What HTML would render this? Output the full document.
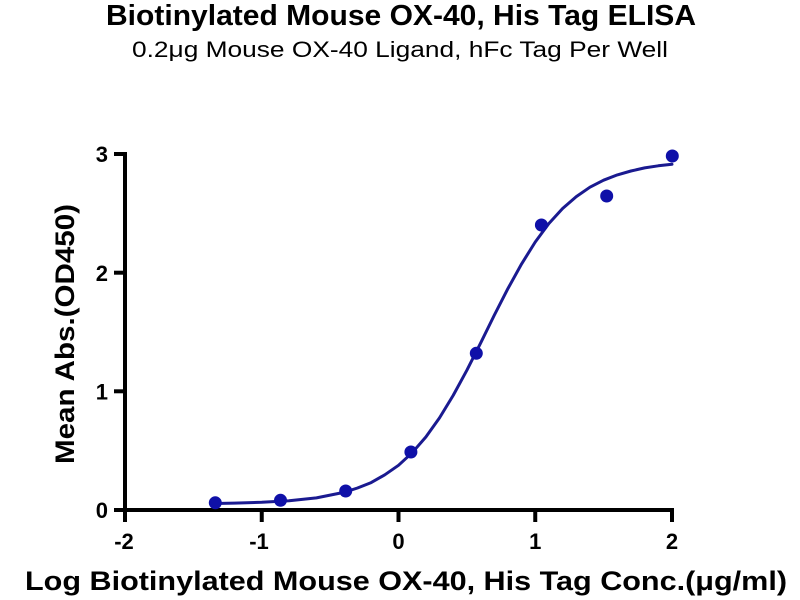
<!DOCTYPE html>
<html>
<head>
<meta charset="utf-8">
<style>
  html, body { margin: 0; padding: 0; background: #ffffff; }
  svg { display: block; }
  text { font-family: "Liberation Sans", Arial, sans-serif; fill: #000; }
</style>
</head>
<body>
<svg width="800" height="600" viewBox="0 0 800 600" xmlns="http://www.w3.org/2000/svg">
  <rect width="800" height="600" fill="#ffffff"/>

  <!-- Titles -->
  <text x="106" y="25" font-size="29" font-weight="bold" textLength="590" lengthAdjust="spacingAndGlyphs">Biotinylated Mouse OX-40, His Tag ELISA</text>
  <text x="132" y="57" font-size="22" textLength="536" lengthAdjust="spacingAndGlyphs">0.2μg Mouse OX-40 Ligand, hFc Tag Per Well</text>

  <!-- Axes -->
  <g stroke="#000" stroke-width="4" fill="none">
    <line x1="125" y1="152" x2="125" y2="512"/>
    <line x1="123" y1="510" x2="674" y2="510"/>
    <!-- y ticks -->
    <line x1="114" y1="510" x2="125" y2="510"/>
    <line x1="114" y1="391.3" x2="125" y2="391.3"/>
    <line x1="114" y1="272.7" x2="125" y2="272.7"/>
    <line x1="114" y1="154" x2="125" y2="154"/>
    <!-- x ticks -->
    <line x1="125" y1="510" x2="125" y2="522"/>
    <line x1="261.75" y1="510" x2="261.75" y2="522"/>
    <line x1="398.5" y1="510" x2="398.5" y2="522"/>
    <line x1="535.25" y1="510" x2="535.25" y2="522"/>
    <line x1="672" y1="508" x2="672" y2="522"/>
  </g>

  <!-- Y tick labels -->
  <g font-size="22" font-weight="bold" text-anchor="end">
    <text x="108" y="518">0</text>
    <text x="108" y="399.5">1</text>
    <text x="108" y="281">2</text>
    <text x="108" y="162">3</text>
  </g>

  <!-- X tick labels -->
  <g font-size="22" font-weight="bold" text-anchor="middle">
    <text x="124" y="549">-2</text>
    <text x="259" y="549">-1</text>
    <text x="398.5" y="549">0</text>
    <text x="535.25" y="549">1</text>
    <text x="672" y="549">2</text>
  </g>

  <!-- Axis titles -->
  <text x="25" y="590" font-size="27" font-weight="bold" textLength="762" lengthAdjust="spacingAndGlyphs">Log Biotinylated Mouse OX-40, His Tag Conc.(μg/ml)</text>
  <text transform="translate(74,464) rotate(-90)" x="0" y="0" font-size="27" font-weight="bold" textLength="260" lengthAdjust="spacingAndGlyphs">Mean Abs.(OD450)</text>

  <!-- Fitted curve -->
  <polyline fill="none" stroke="#1a1a90" stroke-width="3" stroke-linejoin="round" stroke-linecap="round"
    points="215.3,503.5 234.4,503.15 261.75,502.3 289.1,500.8 316.45,497.9 343.8,492.4 357.5,488.0 371.15,482.6 384.8,474.8 398.5,465.3 412.2,452.7 425.85,437.0 439.5,417.9 453.2,395.4 466.9,370.2 480.55,343.15 494.2,315.4 507.9,288.6 521.6,263.9 535.25,242.0 548.9,223.5 562.6,208.5 576.3,196.6 589.95,187.2 603.6,180.2 617.3,174.9 630.9,171.0 644.65,167.9 658.3,165.8 672,164.2"/>

  <!-- Data points -->
  <g fill="#0f10a8">
    <circle cx="215.3" cy="502.8" r="6.5"/>
    <circle cx="280.5" cy="500.3" r="6.5"/>
    <circle cx="345.7" cy="491" r="6.5"/>
    <circle cx="410.9" cy="452" r="6.5"/>
    <circle cx="476.3" cy="353.3" r="6.5"/>
    <circle cx="541.4" cy="225" r="6.5"/>
    <circle cx="606.7" cy="196" r="6.5"/>
    <circle cx="672.3" cy="156" r="6.5"/>
  </g>
</svg>
</body>
</html>
